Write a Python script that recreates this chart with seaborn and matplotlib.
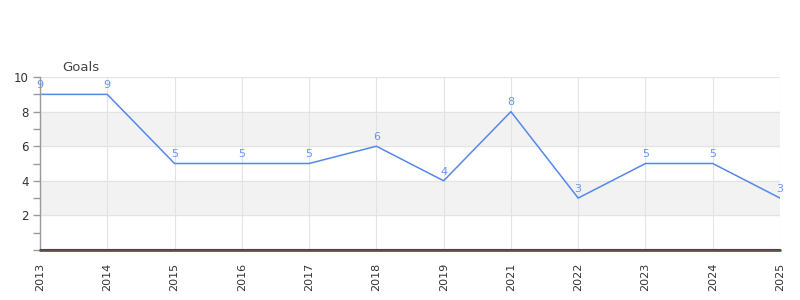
import matplotlib
matplotlib.use("Agg")
import matplotlib.pyplot as plt
import seaborn as sns
import pandas as pd
from matplotlib.ticker import FixedLocator

years = ["2013", "2014", "2015", "2016", "2017", "2018", "2019", "2021", "2022", "2023", "2024", "2025"]
goals = [9, 9, 5, 5, 5, 6, 4, 8, 3, 5, 5, 3]
series_name = "Goals"

sns.set_theme(style="white")
plt.rcParams['font.family'] = ['DejaVu Sans']

df = pd.DataFrame({"year": years, "goals": goals})
fig = plt.figure(figsize=(8, 3), dpi=100)
ax = fig.add_axes([0.05, 0.167, 0.925, 0.576])

line_color = "#5588e8"
sns.lineplot(data=df, x="year", y="goals", ax=ax, color=line_color, linewidth=1.1, sort=False)

ax.set_xlim(0, len(years) - 1)
ax.set_ylim(0, 10)

# bands
for lo, hi in [(2, 4), (6, 8)]:
    ax.axhspan(lo, hi, color="#f2f2f2", zorder=0)

ax.yaxis.set_major_locator(FixedLocator([0, 2, 4, 6, 8, 10]))
ax.yaxis.set_minor_locator(FixedLocator([1, 3, 5, 7, 9]))
ax.set_yticklabels(["", "2", "4", "6", "8", "10"])
ax.grid(True, which="major", axis="both", color="#e3e3e3", linewidth=0.8, zorder=0.5)
ax.set_axisbelow(True)

ax.tick_params(axis="y", which="both", left=True, length=5, width=1, color="#999999",
               labelsize=8.5, labelcolor="#333333", pad=3)
ax.tick_params(axis="x", bottom=False, labelsize=8, labelcolor="#333333", rotation=90, pad=3)

for s in ["top", "right", "bottom"]:
    ax.spines[s].set_visible(False)
ax.spines["left"].set_color("#999999")
ax.spines["left"].set_linewidth(1)

ax.axhline(0, color="#555555", linewidth=2, zorder=3, clip_on=False)
ax.axhline(0.03, color="#b01818", linewidth=0.8, zorder=4, clip_on=False)

for i, v in enumerate(goals):
    ax.annotate(str(v), (i, v), xytext=(0, 3), textcoords="offset points",
                ha="center", va="bottom", fontsize=8, color="#6a96ec", zorder=5)

ax.set_xlabel("")
ax.set_ylabel("")
fig.text(62 / 800, 1 - 67 / 300, series_name, fontsize=9.5,
         color="#444444", ha="left", va="center")

fig.savefig("out.png", dpi=100)
